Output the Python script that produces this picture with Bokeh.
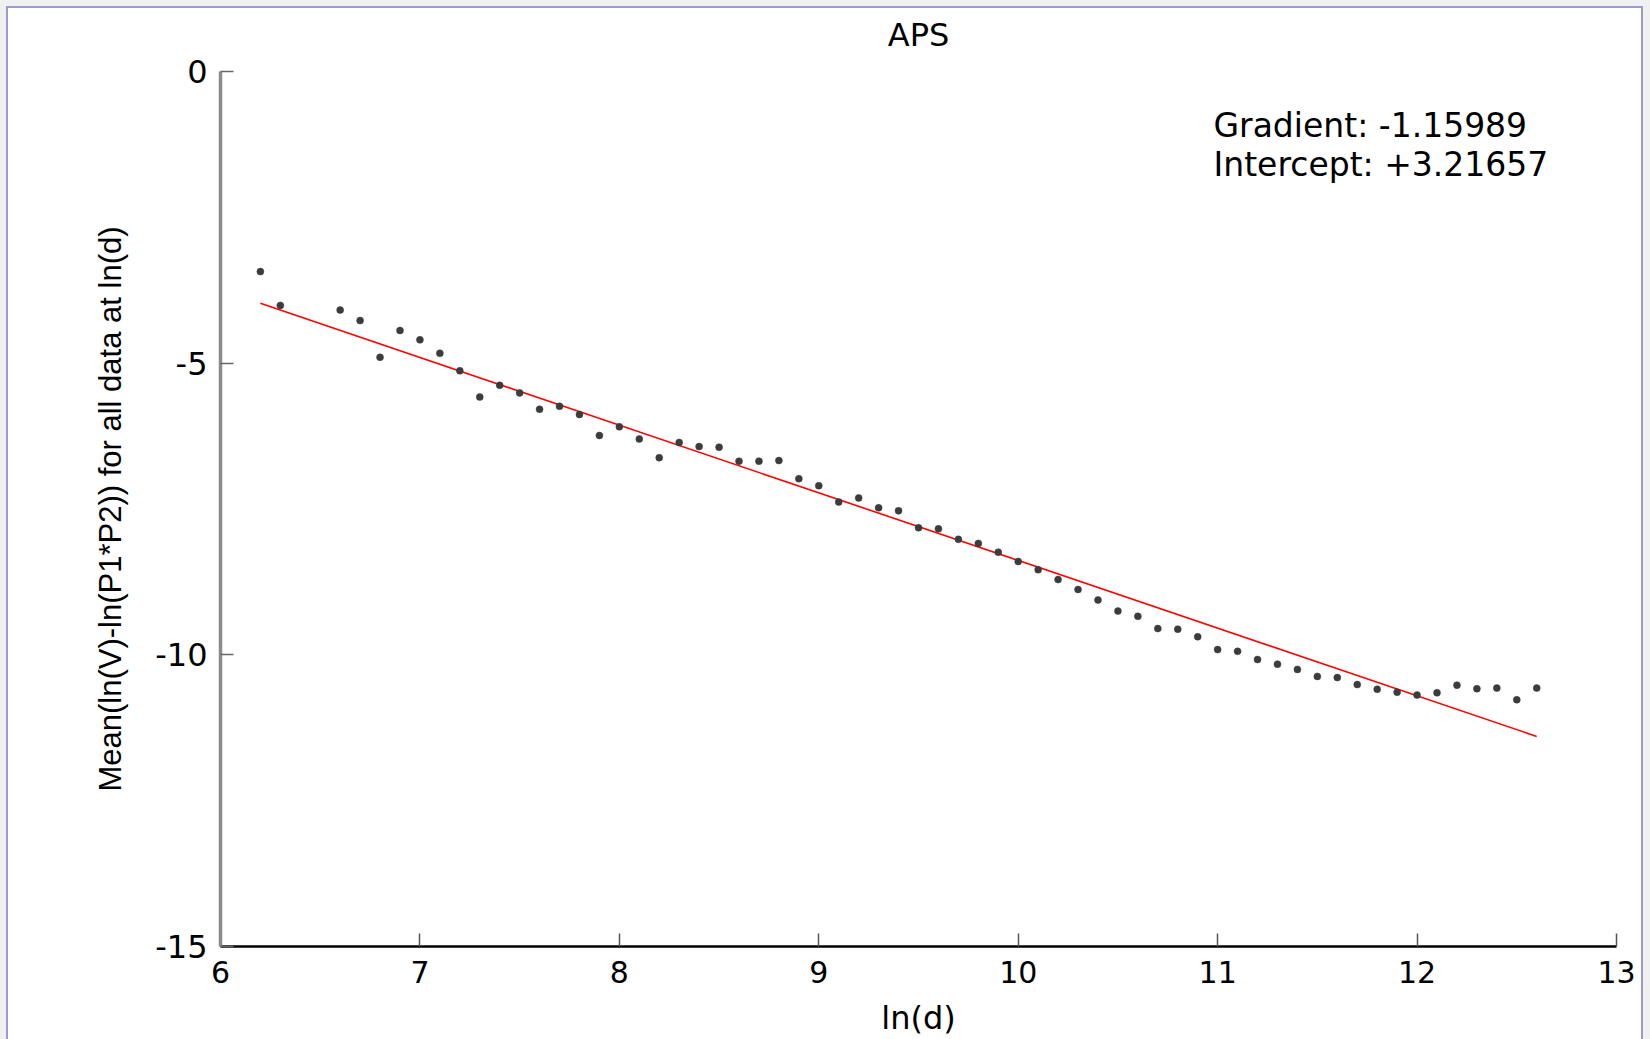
from bokeh.plotting import figure
from bokeh.models import Label, FixedTicker, Range1d, LinearAxis
from bokeh.layouts import column
from bokeh.embed import file_html
from bokeh.resources import INLINE

# ---------------- data ----------------
ln_d = [6.2, 6.3, 6.6, 6.7, 6.8, 6.9, 7.0, 7.1, 7.2, 7.3, 7.4, 7.5, 7.6, 7.7,
        7.8, 7.9, 8.0, 8.1, 8.2, 8.3, 8.4, 8.5, 8.6, 8.7, 8.8, 8.9, 9.0, 9.1,
        9.2, 9.3, 9.4, 9.5, 9.6, 9.7, 9.8, 9.9, 10.0, 10.1, 10.2, 10.3, 10.4,
        10.5, 10.6, 10.7, 10.8, 10.9, 11.0, 11.1, 11.2, 11.3, 11.4, 11.5, 11.6,
        11.7, 11.8, 11.9, 12.0, 12.1, 12.2, 12.3, 12.4, 12.5, 12.6]
mean_vals = [-3.43, -4.01, -4.09, -4.27, -4.90, -4.44, -4.60, -4.83, -5.13,
             -5.58, -5.38, -5.51, -5.79, -5.74, -5.88, -6.24, -6.09, -6.30,
             -6.62, -6.36, -6.43, -6.44, -6.68, -6.68, -6.67, -6.98, -7.10,
             -7.38, -7.31, -7.48, -7.53, -7.82, -7.84, -8.02, -8.09, -8.24,
             -8.40, -8.54, -8.71, -8.88, -9.06, -9.25, -9.34, -9.55, -9.56,
             -9.69, -9.91, -9.94, -10.08, -10.16, -10.25, -10.37, -10.39,
             -10.51, -10.59, -10.64, -10.69, -10.65, -10.52, -10.58, -10.57,
             -10.77, -10.57]
gradient = -1.15989
intercept = 3.21657

x_ticks = [6, 7, 8, 9, 10, 11, 12, 13]
x_tick_labels = ["6", "7", "8", "9", "10", "11", "12", "13"]
y_ticks = [0, -5, -10, -15]
y_tick_labels = ["0", "-5", "-10", "-15"]

title_text = "APS"
x_label_text = "ln(d)"
y_label_text = "Mean(ln(V)-ln(P1*P2)) for all data at ln(d)"
fit_lines = ["Gradient: -1.15989", "Intercept: +3.21657"]

# ---------------- figure ----------------
OFF = 8                      # page offset of the canvas (gray margin + border)
W, H = 1633, 1031
LEFT, RIGHT, TOP, BOTTOM = 212, 25, 63, 93
X0, X1, Y0, Y1 = 6, 13, -15, 0

p = figure(width=W, height=H, x_range=Range1d(X0, X1), y_range=Range1d(Y0, Y1),
           output_backend="svg", toolbar_location=None,
           min_border_left=LEFT, min_border_right=RIGHT,
           min_border_top=TOP, min_border_bottom=BOTTOM)
p.grid.visible = False
p.outline_line_color = None
p.background_fill_color = "white"
p.border_fill_color = "white"

fw = W - LEFT - RIGHT
fh = H - TOP - BOTTOM
def cx(px):
    return X0 + (px - OFF - LEFT) / fw * (X1 - X0)
def cy(py):
    return Y1 - (py - OFF - TOP) / fh * (Y1 - Y0)

# fit line
fx = [min(ln_d), max(ln_d)]
fy = [gradient * v + intercept for v in fx]
p.line(fx, fy, line_color="red", line_width=1.6)

# data points
p.scatter(ln_d, mean_vals, size=7, marker="circle",
          fill_color="#3c3c3c", line_color="#3c3c3c", line_width=0.5)

# bottom axis
xa = p.below[0]
xa.ticker = FixedTicker(ticks=x_ticks)
xa.major_label_overrides = dict(zip(x_ticks, x_tick_labels))
xa.axis_line_color = "black"
xa.axis_line_width = 2.5
xa.major_tick_line_color = "#555555"
xa.major_tick_line_width = 1.5
xa.major_tick_in = 13
xa.major_tick_out = 0
xa.minor_tick_line_color = None
xa.major_label_text_font = "DejaVu Sans"
xa.major_label_text_font_size = "30px"
xa.major_label_text_color = "black"
xa.major_label_standoff = 14
xa.axis_label = x_label_text
xa.axis_label_text_font = "DejaVu Sans"
xa.axis_label_text_font_size = "32px"
xa.axis_label_text_font_style = "normal"
xa.axis_label_text_color = "black"
xa.axis_label_standoff = 13

# left axis
ya = p.left[0]
ya.ticker = FixedTicker(ticks=y_ticks)
ya.major_label_overrides = dict(zip(y_ticks, y_tick_labels))
ya.axis_line_color = "#8a8a8a"
ya.axis_line_width = 3.5
ya.major_tick_line_color = "#666666"
ya.major_tick_line_width = 1.5
ya.major_tick_in = 13
ya.major_tick_out = 0
ya.minor_tick_line_color = None
ya.major_label_text_font = "DejaVu Sans"
ya.major_label_text_font_size = "32px"
ya.major_label_text_color = "black"
ya.major_label_standoff = 13
ya.axis_label = y_label_text
ya.axis_label_text_font = "Liberation Sans"
ya.axis_label_text_font_size = "31px"
ya.axis_label_text_font_style = "normal"
ya.axis_label_text_color = "black"
ya.axis_label_standoff = 24

# title, drawn as the label of a bare axis above the frame
top_axis = LinearAxis(ticker=FixedTicker(ticks=[]), axis_line_color=None,
                      major_tick_line_color=None, minor_tick_line_color=None,
                      major_tick_in=0, major_tick_out=0, major_label_standoff=0,
                      axis_label=title_text, axis_label_text_font="DejaVu Sans",
                      axis_label_text_font_size="32px",
                      axis_label_text_font_style="normal",
                      axis_label_text_color="black", axis_label_standoff=18)
p.add_layout(top_axis, "above")

# fit annotation
p.add_layout(Label(x=cx(1213), y=cy(125), text=fit_lines[0], text_align="left",
                   text_baseline="alphabetic", text_font="DejaVu Sans",
                   text_font_size="33px", text_color="black"))
p.add_layout(Label(x=cx(1213), y=cy(163.5), text=fit_lines[1], text_align="left",
                   text_baseline="alphabetic", text_font="DejaVu Sans",
                   text_font_size="33px", text_color="black"))

# page frame: thin bluish border inside a light gray margin
p.margin = (2, 2, 0, 2)
p.styles = {"background-color": "white"}
inner = column(p, styles={"background-color": "#9a9acb"}, margin=(6, 7, 0, 6))
outer = column(inner, styles={"background-color": "#f0f0f0"})

open("out.html", "w").write(file_html(outer, INLINE))
